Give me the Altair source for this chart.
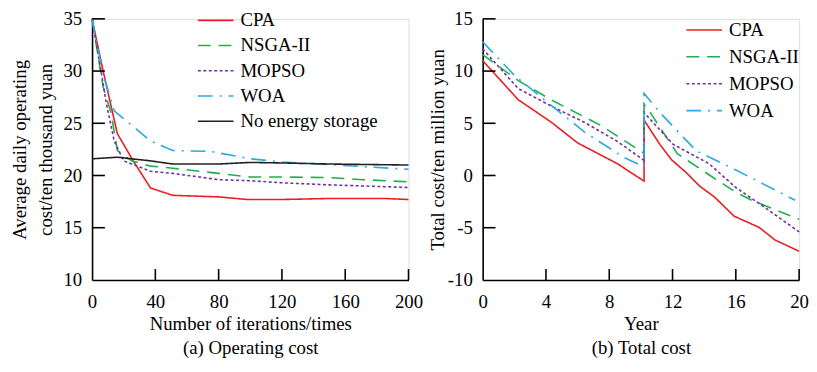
import altair as alt
import pandas as pd

FONT = "Liberation Serif, Times New Roman, serif"

# ---------------- data: (a) operating cost vs iterations ----------------
SERIES_A = ["CPA", "NSGA-II", "MOPSO", "WOA", "No energy storage"]
cpa_it = [0, 7, 16, 26, 37, 51, 80, 98, 120, 150, 185, 200]
cpa_cost = [35, 30.0, 24.0, 21.4, 18.8, 18.1, 17.95, 17.7, 17.7, 17.8, 17.8, 17.7]
nsga_it = [0, 7, 12, 16, 25, 37, 51, 80, 100, 120, 150, 171, 200]
nsga_cost = [35, 28.5, 26.0, 22.4, 21.4, 20.9, 20.7, 20.2, 19.85, 19.85, 19.8, 19.6, 19.4]
mopso_it = [0, 6, 9, 14, 20, 37, 51, 80, 100, 120, 150, 171, 200]
mopso_cost = [35, 29.7, 26.9, 23.3, 21.4, 20.4, 20.2, 19.6, 19.5, 19.3, 19.1, 19.0, 18.85]
woa_it = [0, 7, 14, 37, 51, 75, 100, 120, 150, 171, 200]
woa_cost = [35, 29.7, 26.2, 23.3, 22.4, 22.3, 21.6, 21.3, 21.05, 20.85, 20.6]
noes_it = [0, 16, 37, 51, 80, 100, 120, 150, 200]
noes_cost = [21.6, 21.75, 21.4, 21.1, 21.1, 21.25, 21.2, 21.1, 21.0]

# ---------------- data: (b) total cost vs year ----------------
SERIES_B = ["CPA", "NSGA-II", "MOPSO", "WOA"]
cpa_yr = [0, 2.25, 4.34, 6.0, 8.5, 10.2, 10.2, 11.2, 11.94, 12.9, 13.7, 14.65, 15.9, 17.46, 18.5, 20]
cpa_tot = [11.0, 7.25, 5.1, 3.12, 1.14, -0.54, 5.3, 2.98, 1.5, 0.23, -1.0, -2.06, -3.9, -4.96, -6.2, -7.25]
nsga_yr = [0, 2.25, 4.34, 7.46, 10.2, 10.2, 10.6, 12.3, 14.3, 16.0, 17.0, 20]
nsga_tot = [11.58, 9.08, 7.24, 4.8, 2.12, 6.85, 6.0, 2.1, 0.07, -1.6, -2.37, -4.2]
mopso_yr = [0, 2.25, 4.34, 6.42, 8.5, 10.2, 10.2, 12.04, 14.3, 16.0, 17.9, 20]
mopso_tot = [12.13, 8.32, 6.64, 5.1, 3.28, 1.45, 6.03, 2.98, 1.14, -1.15, -3.13, -5.4]
woa_yr = [0, 2.04, 3.9, 6.4, 8.9, 10.2, 10.2, 11.2, 13.5, 16.0, 19.75]
woa_tot = [12.8, 9.54, 7.25, 4.2, 1.75, 0.83, 7.86, 6.03, 2.36, 0.53, -2.37]

# axis labels and inward tick positions
xlab_a = [0, 40, 80, 120, 160, 200]
ylab_a = [10, 15, 20, 25, 30, 35]
xtick_a = [40, 80, 120, 160, 200]
ytick_a = [15, 20, 25, 30, 35]
xlab_b = [0, 4, 8, 12, 16, 20]
ylab_b = [-10, -5, 0, 5, 10, 15]
xtick_b = [4, 8, 12, 16, 20]
ytick_b = [-5, 0, 5, 10, 15]

COLORS = ["#ed1c24", "#1eb04b", "#7030a0", "#29abe2", "#231f20"]
DASHES = [[1, 0], [13, 8], [3, 2.5], [15, 7, 2, 7], [1, 0]]

W, H = 320, 264


def long_df(groups):
    rows = []
    for name, xs, ys in groups:
        for i, (x, y) in enumerate(zip(xs, ys)):
            rows.append({"series": name, "x": x, "y": y, "idx": i})
    return pd.DataFrame(rows)


df_a = long_df([
    ("CPA", cpa_it, cpa_cost), ("NSGA-II", nsga_it, nsga_cost),
    ("MOPSO", mopso_it, mopso_cost), ("WOA", woa_it, woa_cost),
    ("No energy storage", noes_it, noes_cost),
])
df_b = long_df([
    ("CPA", cpa_yr, cpa_tot), ("NSGA-II", nsga_yr, nsga_tot),
    ("MOPSO", mopso_yr, mopso_tot), ("WOA", woa_yr, woa_tot),
])

AX = dict(ticks=False, tickSize=0, grid=False, domainColor="black", domainWidth=1.6,
          labelFont=FONT, labelFontSize=19, labelColor="black", labelFlush=False,
          labelExpr="replace(datum.label, '\u2212', '-')",
          titleFont=FONT, titleFontSize=19, titleFontWeight="normal", titleColor="black")


def panel(df, names, xdom, ydom, xlab, ylab, xt, yt, xtitle, ytitle, lx, ly, rowpad, ytp):
    n = len(names)
    leg = alt.Legend(orient="none", legendX=lx, legendY=ly, title=None,
                     symbolType="M-2,0H2", symbolSize=324, symbolStrokeWidth=1.6,
                     labelOffset=15, rowPadding=rowpad, labelFont=FONT, labelFontSize=19,
                     labelColor="black", padding=0, labelLimit=0)
    xs = alt.Scale(domain=xdom, nice=False, zero=False)
    ys = alt.Scale(domain=ydom, nice=False, zero=False)
    lines = alt.Chart(df).mark_line(strokeWidth=1.6).encode(
        x=alt.X("x:Q", scale=xs, axis=alt.Axis(values=xlab, labelPadding=13, title=xtitle,
                                                titlePadding=3, titleLineHeight=24.5, **AX)),
        y=alt.Y("y:Q", scale=ys, axis=alt.Axis(values=ylab, labelPadding=10.5, title=ytitle,
                                                titlePadding=ytp, titleLineHeight=26, **AX)),
        color=alt.Color("series:N", scale=alt.Scale(domain=names, range=COLORS[:n]), legend=leg),
        strokeDash=alt.StrokeDash("series:N", scale=alt.Scale(domain=names, range=DASHES[:n]), legend=leg),
        order=alt.Order("idx:Q"),
    )
    xr = alt.Chart(pd.DataFrame({"x": xt})).mark_rule(color="black", strokeWidth=1.6).encode(
        x=alt.X("x:Q", scale=xs), y=alt.value(H), y2=alt.value(H - 11))
    yr = alt.Chart(pd.DataFrame({"y": yt})).mark_rule(color="black", strokeWidth=1.6).encode(
        y=alt.Y("y:Q", scale=ys), x=alt.value(0), x2=alt.value(13))
    return alt.layer(lines, xr, yr).properties(width=W, height=H)


left = panel(df_a, SERIES_A, [0, 200], [10, 35], xlab_a, ylab_a, xtick_a, ytick_a,
             ["Number of iterations/times", "(a) Operating cost"],
             ["Average daily operating", "cost/ten thousand yuan"], 115, -8.5, 5.5, 8)
right = panel(df_b, SERIES_B, [0, 20], [-10, 15], xlab_b, ylab_b, xtick_b, ytick_b,
              ["Year", "(b) Total cost"], "Total cost/ten million yuan", 214, 1.2, 7.2, 0)

chart = alt.hconcat(left, right, spacing=4).resolve_scale(
    color="independent", strokeDash="independent", x="independent", y="independent"
).configure_view(stroke=None).configure(font=FONT).properties(
    padding={"left": 2, "top": -1, "right": 0, "bottom": 0}
)

chart.save("out.html", embed_options={"renderer": "svg", "actions": False})
